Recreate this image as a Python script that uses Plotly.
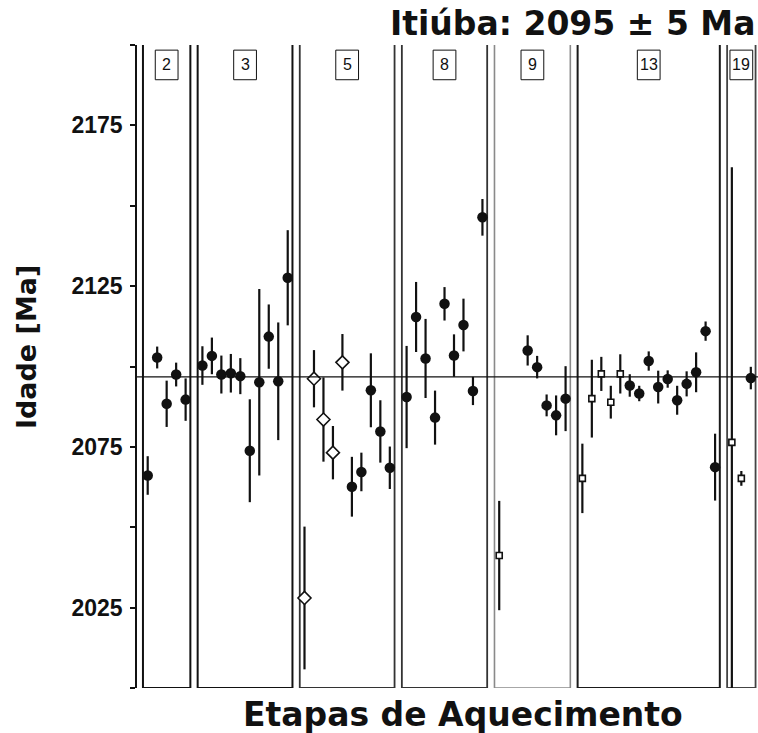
import plotly.graph_objects as go

# ---------------- data ----------------
panel_labels = ["2", "3", "5", "8", "9", "13", "19"]
panel_slots = [5, 10, 10, 9, 8, 15, 3]          # heating-step slots per panel

p2_steps = [0, 1, 2, 3, 4]
p2_age = [2066.1, 2102.8, 2088.4, 2097.5, 2089.7]
p2_err = [6.0, 3.4, 7.2, 3.7, 6.6]
p2_kind = ["f", "f", "f", "f", "f"]

p3_steps = [0, 1, 2, 3, 4, 5, 6, 7, 8, 9]
p3_age = [2100.3, 2103.3, 2097.5, 2097.9, 2097.0, 2073.8, 2095.1, 2109.3, 2095.4, 2127.6]
p3_err = [6.0, 5.7, 5.9, 6.0, 5.6, 16.0, 29.0, 10.0, 18.3, 14.8]
p3_kind = ["f"] * 10

p5_steps = [0, 1, 2, 3, 4, 5, 6, 7, 8, 9]
p5_age = [2028.0, 2096.2, 2083.5, 2073.2, 2101.3, 2062.6, 2067.2, 2092.6, 2079.8, 2068.5]
p5_err = [22.2, 8.9, 13.1, 8.3, 8.8, 9.3, 6.0, 11.5, 9.7, 6.6]
p5_kind = ["d", "d", "d", "d", "d", "f", "f", "f", "f", "f"]

p8_steps = [0, 1, 2, 3, 4, 5, 6, 7, 8]
p8_age = [2090.5, 2115.4, 2102.5, 2084.1, 2119.5, 2103.4, 2112.9, 2092.4, 2146.4]
p8_err = [15.9, 10.9, 12.3, 8.4, 5.2, 6.6, 8.2, 4.4, 5.7]
p8_kind = ["f"] * 9

p9_steps = [0, 3, 4, 5, 6, 7]
p9_age = [2041.2, 2105.0, 2099.8, 2087.9, 2084.8, 2090.0]
p9_err = [17.0, 4.7, 3.5, 3.4, 6.2, 10.1]
p9_kind = ["s", "f", "f", "f", "f", "f"]

p13_steps = list(range(15))
p13_age = [2065.2, 2090.0, 2097.7, 2088.9, 2097.7, 2094.1, 2091.6, 2101.7,
           2093.6, 2096.1, 2089.5, 2094.6, 2098.2, 2111.0, 2068.7]
p13_err = [10.8, 12.1, 5.3, 5.1, 6.1, 3.5, 2.4, 3.0, 5.1, 2.7, 4.5, 3.9, 6.2, 3.0, 10.4]
p13_kind = ["s", "s", "s", "s", "s"] + ["f"] * 10

p19_steps = [0, 1, 2]
p19_age = [2076.4, 2065.2, 2096.4]
p19_err = [85.6, 2.3, 3.5]
p19_kind = ["s", "s", "f"]

plateau_age = 2096.8
title_text = "Itiúba: 2095 ± 5 Ma"
x_title = "Etapas de Aquecimento"
y_title = "Idade [Ma]"
y_ticks = [2000, 2025, 2050, 2075, 2100, 2125, 2150, 2175, 2200]
y_tick_labels = ["", "2025", "", "2075", "", "2125", "", "2175", ""]

panels = [
    (p2_steps, p2_age, p2_err, p2_kind),
    (p3_steps, p3_age, p3_err, p3_kind),
    (p5_steps, p5_age, p5_err, p5_kind),
    (p8_steps, p8_age, p8_err, p8_kind),
    (p9_steps, p9_age, p9_err, p9_kind),
    (p13_steps, p13_age, p13_err, p13_kind),
    (p19_steps, p19_age, p19_err, p19_kind),
]

# ---------------- layout helpers ----------------
GAP = 1.77      # distance between last slot of a panel and first slot of the next
PAD = 0.5
panel_colors = ["#111111", "#111111", "#333333", "#333333", "#8a8a8a", "#1a1a1a", "#444444"]
panel_widths = [2, 2, 1.8, 1.8, 1.6, 2, 1.8]

starts = []
pos = 0.0
for n in panel_slots:
    starts.append(pos)
    pos += (n - 1) + GAP

groups = {"f": ([], [], []), "d": ([], [], []), "s": ([], [], [])}
for start, (steps, ages, errs, kinds) in zip(starts, panels):
    for st, a, e, k in zip(steps, ages, errs, kinds):
        groups[k][0].append(start + st)
        groups[k][1].append(a)
        groups[k][2].append(e)

fig = go.Figure()

styles = {
    "f": dict(symbol="circle", size=10.5, color="#111111", line=dict(width=0)),
    "d": dict(symbol="diamond", size=10, color="white", line=dict(width=1.6, color="#111111")),
    "s": dict(symbol="square", size=6, color="white", line=dict(width=1.6, color="#111111")),
}
for k in ["f", "d", "s"]:
    xs, ys, es = groups[k]
    fig.add_trace(go.Scatter(
        x=xs, y=ys, mode="markers",
        marker=styles[k],
        error_y=dict(type="data", array=es, visible=True, thickness=2.2, width=0, color="#111111"),
        showlegend=False, hoverinfo="skip",
    ))

shapes = []
annotations = []
for i, (start, n) in enumerate(zip(starts, panel_slots)):
    x0 = start - PAD
    x1 = start + (n - 1) + PAD
    shapes.append(dict(type="rect", xref="x", yref="y", x0=x0, x1=x1, y0=2000, y1=2200.6,
                       line=dict(color=panel_colors[i], width=panel_widths[i]),
                       fillcolor="rgba(0,0,0,0)", layer="below"))
    cx = (x0 + x1) / 2
    shapes.append(dict(type="rect", xref="x", yref="y", x0=cx - 1.2, x1=cx + 1.2,
                       y0=2189.2, y1=2198.4,
                       line=dict(color="#111111", width=1), fillcolor="white", layer="above"))
    annotations.append(dict(x=cx, y=2193.8, xref="x", yref="y", text=panel_labels[i],
                            showarrow=False, font=dict(family="Liberation Sans", size=16, color="#111111")))

shapes.append(dict(type="line", xref="paper", yref="y", x0=0, x1=1, y0=plateau_age, y1=plateau_age,
                   line=dict(color="#111111", width=1.2), layer="above"))

annotations.append(dict(x=0.998, y=1.034, xref="paper", yref="paper", xanchor="right", yanchor="middle",
                        text="<b>" + title_text + "</b>", showarrow=False,
                        font=dict(family="DejaVu Sans", size=33, color="#111111")))
annotations.append(dict(x=0.525, y=-0.0405, xref="paper", yref="paper", xanchor="center", yanchor="middle",
                        text="<b>" + x_title + "</b>", showarrow=False,
                        font=dict(family="DejaVu Sans", size=33, color="#111111")))
annotations.append(dict(x=-0.179, y=0.53, xref="paper", yref="paper", xanchor="center", yanchor="middle",
                        text="<b>" + y_title + "</b>", showarrow=False, textangle=-90,
                        font=dict(family="DejaVu Sans", size=27, color="#111111")))

STEP_PX = 9.48
x_left = (137 - 147.7) / STEP_PX
x_right = (758 - 147.7) / STEP_PX

fig.update_layout(
    width=758, height=733,
    margin=dict(l=137, r=0, t=45, b=45),
    paper_bgcolor="white", plot_bgcolor="white",
    shapes=shapes, annotations=annotations,
    xaxis=dict(range=[x_left, x_right], visible=False, showgrid=False, zeroline=False),
    yaxis=dict(range=[2000, 2200], tickmode="array", tickvals=y_ticks,
               ticktext=["<b>" + t + "</b>" if t else "" for t in y_tick_labels],
               ticks="outside", ticklen=5, tickwidth=1.5, tickcolor="#111111",
               showline=True, linecolor="#111111", linewidth=1.6,
               showgrid=False, zeroline=False,
               tickfont=dict(family="Liberation Sans", size=23, color="#111111"),
               ticklabelstandoff=3),
    font=dict(family="Liberation Sans"),
)

fig.write_html(
    "out.html",
    config={"displayModeBar": False},
    post_script="document.body.style.margin='0';document.body.style.overflow='hidden';",
)
